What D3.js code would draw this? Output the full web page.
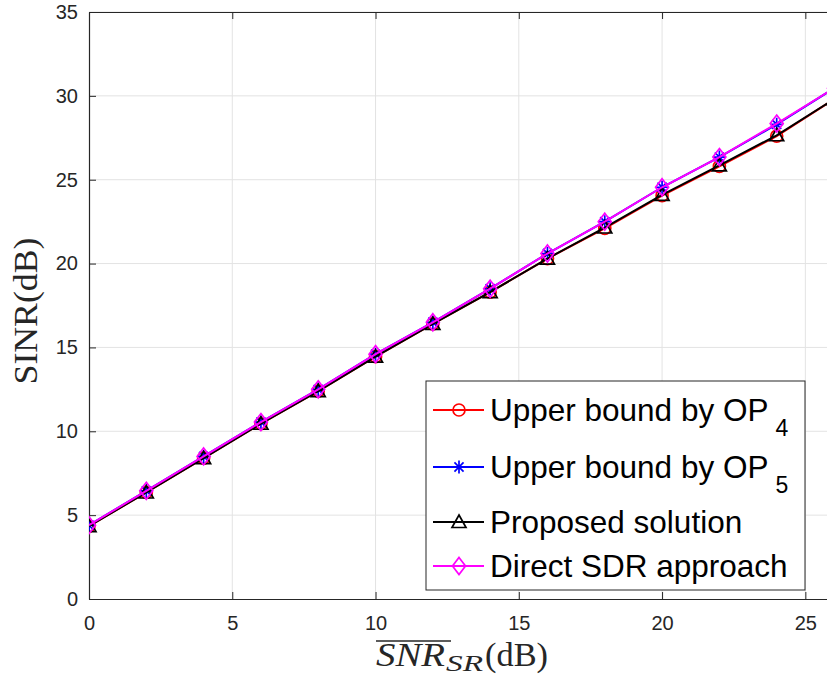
<!DOCTYPE html>
<html>
<head>
<meta charset="utf-8">
<script src="https://cdnjs.cloudflare.com/ajax/libs/d3/7.8.5/d3.min.js"></script>
<style>
  body { margin: 0; background: #fff; }
  svg { display: block; }
</style>
</head>
<body>
<div id="chart"></div>
<script>

var config = {
  w: 827,
  h: 681,
  left: 89,
  top: 12,
  plotW: 745,   // axes run past the right edge of the window (cropped like the original)
  plotH: 587
}

// SNR_SR (dB) points
var snr = [0, 2, 4, 6, 8, 10, 12, 14, 16, 18, 20, 22, 24, 26];

// SINR (dB) per method
var op4      = [4.35, 6.35, 8.4, 10.45, 12.4, 14.45, 16.4, 18.3, 20.3, 22.1, 24.05, 25.8, 27.6, 29.8];
var op5      = [4.4, 6.45, 8.5, 10.55, 12.5, 14.6, 16.5, 18.5, 20.6, 22.5, 24.55, 26.35, 28.3, 30.45];
var proposed = [4.35, 6.35, 8.4, 10.45, 12.4, 14.45, 16.4, 18.3, 20.3, 22.15, 24.1, 25.85, 27.65, 29.8];
var direct   = [4.4, 6.45, 8.5, 10.55, 12.5, 14.6, 16.5, 18.5, 20.6, 22.5, 24.55, 26.35, 28.35, 30.45];

var xTicks = [0, 5, 10, 15, 20, 25];
var yTicks = [0, 5, 10, 15, 20, 25, 30, 35];

var series = [
  {name: "Upper bound by OP", sub: "4", values: op4, color: "#ff0000", marker: "circle"},
  {name: "Upper bound by OP", sub: "5", values: op5, color: "#0000ff", marker: "star"},
  {name: "Proposed solution", sub: "", values: proposed, color: "#000000", marker: "triangle"},
  {name: "Direct SDR approach", sub: "", values: direct, color: "#ff00ff", marker: "diamond"}
];

var svg = d3.select("#chart").append("svg")
  .attr("width", config.w)
  .attr("height", config.h);

var g = svg.append("g")
  .attr("transform", "translate(" + config.left + "," + config.top + ")");

var x = d3.scaleLinear().domain([0, 26]).range([0, config.plotW]);
var y = d3.scaleLinear().domain([0, 35]).range([config.plotH, 0]);

// grid
g.append("g").selectAll("line")
  .data(xTicks.slice(1))
  .enter().append("line")
  .attr("x1", function(d) { return x(d); })
  .attr("x2", function(d) { return x(d); })
  .attr("y1", 0)
  .attr("y2", config.plotH)
  .style("stroke", "#e3e3e3")
  .style("stroke-width", "1px");

g.append("g").selectAll("line")
  .data(yTicks.slice(1))
  .enter().append("line")
  .attr("x1", 0)
  .attr("x2", config.plotW)
  .attr("y1", function(d) { return y(d); })
  .attr("y2", function(d) { return y(d); })
  .style("stroke", "#e3e3e3")
  .style("stroke-width", "1px");

// axes (ticks point inwards, MATLAB style)
var xAxis = g.append("g")
  .attr("transform", "translate(0," + config.plotH + ")")
  .call(d3.axisBottom(x).tickValues(xTicks).tickSizeInner(-7).tickSizeOuter(0).tickPadding(17));

var yAxis = g.append("g")
  .call(d3.axisLeft(y).tickValues(yTicks).tickSizeInner(-7).tickSizeOuter(0).tickPadding(11));

var xTop = g.append("g")
  .call(d3.axisTop(x).tickValues(xTicks).tickSizeInner(-7).tickSizeOuter(0).tickFormat(""));

[xAxis, yAxis, xTop].forEach(function(a) {
  a.select(".domain").style("stroke", "#262626").style("stroke-width", "1.2px");
  a.selectAll(".tick line").style("stroke", "#262626").style("stroke-width", "1px");
  a.selectAll(".tick text")
    .style("font-family", "'Liberation Sans', Arial, sans-serif")
    .style("font-size", "20px")
    .style("fill", "#262626");
});

// lines
var clip = svg.append("clipPath").attr("id", "plotClip")
  .append("rect")
  .attr("x", 0).attr("y", 0)
  .attr("width", config.plotW).attr("height", config.plotH);

var line = d3.line()
  .x(function(d, i) { return x(snr[i]); })
  .y(function(d) { return y(d); });

var plot = g.append("g").attr("clip-path", "url(#plotClip)");

function drawMarker(sel, type, color) {
  if (type === "circle") {
    sel.append("circle").attr("r", 6)
      .style("fill", "none").style("stroke", color).style("stroke-width", "1.7px");
  } else if (type === "star") {
    var s = 6.5;
    var p = "M" + (-s) + ",0L" + s + ",0M0," + (-s) + "L0," + s +
            "M" + (-s * 0.7) + "," + (-s * 0.7) + "L" + (s * 0.7) + "," + (s * 0.7) +
            "M" + (-s * 0.7) + "," + (s * 0.7) + "L" + (s * 0.7) + "," + (-s * 0.7);
    sel.append("path").attr("d", p)
      .style("fill", "none").style("stroke", color).style("stroke-width", "1.7px");
  } else if (type === "triangle") {
    sel.append("path").attr("d", "M0,-7L7,5.5L-7,5.5Z")
      .style("fill", "none").style("stroke", color).style("stroke-width", "1.7px");
  } else if (type === "diamond") {
    sel.append("path").attr("d", "M0,-8.5L6.5,0L0,8.5L-6.5,0Z")
      .style("fill", "none").style("stroke", color).style("stroke-width", "1.7px");
  }
}

series.forEach(function(s) {
  plot.append("path")
    .datum(s.values)
    .attr("d", line)
    .style("fill", "none")
    .style("stroke", s.color)
    .style("stroke-width", "2px");

  var m = plot.append("g").selectAll("g")
    .data(s.values)
    .enter().append("g")
    .attr("transform", function(d, i) { return "translate(" + x(snr[i]) + "," + y(d) + ")"; });
  drawMarker(m, s.marker, s.color);
});

// axis labels (overlined SNR with subscript SR)
var labelFont = "'Liberation Serif', 'Times New Roman', serif";

svg.append("text")
  .attr("x", 376).attr("y", 666)
  .attr("textLength", 69).attr("lengthAdjust", "spacingAndGlyphs")
  .style("font-family", labelFont).style("font-size", "34px")
  .style("font-style", "italic").style("fill", "#262626")
  .text("SNR");

svg.append("text")
  .attr("x", 446).attr("y", 671)
  .attr("textLength", 37).attr("lengthAdjust", "spacingAndGlyphs")
  .style("font-family", labelFont).style("font-size", "24px")
  .style("font-style", "italic").style("fill", "#262626")
  .text("SR");

svg.append("text")
  .attr("x", 485).attr("y", 666)
  .attr("textLength", 63).attr("lengthAdjust", "spacingAndGlyphs")
  .style("font-family", labelFont).style("font-size", "34px")
  .style("fill", "#262626")
  .text("(dB)");

svg.append("line")
  .attr("x1", 376).attr("x2", 451)
  .attr("y1", 641).attr("y2", 641)
  .style("stroke", "#262626")
  .style("stroke-width", "1.5px");

svg.append("text")
  .attr("transform", "translate(37,311) rotate(-90)")
  .attr("text-anchor", "middle")
  .attr("textLength", 147)
  .attr("lengthAdjust", "spacingAndGlyphs")
  .style("font-family", labelFont)
  .style("font-size", "33px")
  .style("fill", "#262626")
  .text("SINR(dB)");

// legend
var legend = svg.append("g").attr("transform", "translate(426,381)");

legend.append("rect")
  .attr("width", 379)
  .attr("height", 209)
  .style("fill", "#fff")
  .style("stroke", "#262626")
  .style("stroke-width", "1px");

var rowY = [40, 97, 152, 196];

series.forEach(function(s, i) {
  var row = legend.append("g").attr("transform", "translate(0," + rowY[i] + ")");
  row.append("line")
    .attr("x1", 7).attr("x2", 58)
    .attr("y1", -11).attr("y2", -11)
    .style("stroke", s.color)
    .style("stroke-width", "2px");
  var mk = row.append("g").attr("transform", "translate(33,-11)");
  drawMarker(mk, s.marker, s.color);
  var t = row.append("text")
    .attr("x", 64)
    .attr("y", 0)
    .style("font-family", "'Liberation Sans', Arial, sans-serif")
    .style("font-size", "31.5px")
    .style("fill", "#000");
  t.append("tspan").text(s.name);
  if (s.sub) {
    t.append("tspan").attr("dx", 7).attr("dy", 15).style("font-size", "23px").text(s.sub);
  }
});

</script>
</body>
</html>
